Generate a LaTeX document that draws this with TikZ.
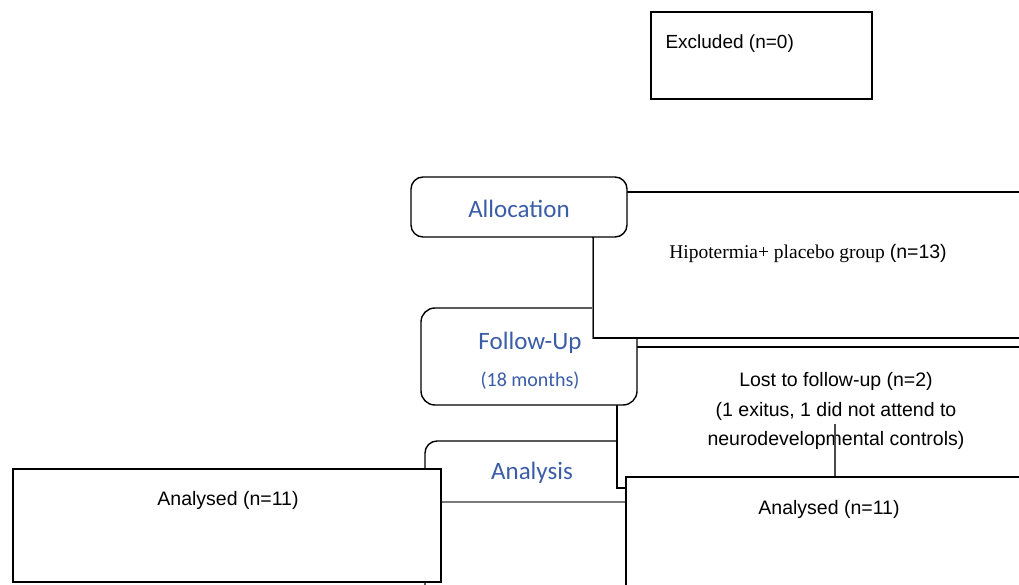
\documentclass[tikz,border=0pt]{standalone}
\usepackage{fontspec}
\setmainfont{Liberation Sans}
\newfontfamily\serifpart{Liberation Serif}
\newfontfamily\stagefont{Carlito}
\definecolor{stageblue}{HTML}{3B5DA8}
\definecolor{linkgray}{HTML}{7A7A7A}
\definecolor{tickgray}{HTML}{4A4A4A}
\usetikzlibrary{positioning,calc}

\begin{document}
\begin{tikzpicture}[x=1pt,y=-1pt,
    box/.style={draw=black,line width=1.4pt,fill=white,inner sep=0pt},
    stage/.style={box,rounded corners=12pt},
    stagetext/.style={stageblue,font=\stagefont\fontsize{25}{30}\selectfont},
    boxtext/.style={font=\fontsize{19.5}{29.5}\selectfont,align=center},
    link/.style={linkgray,line width=1.4pt}]
    \useasboundingbox (0,0) rectangle (1019,585);
    \fill[white] (0,0) rectangle (1019,585);
    \clip (0,0) rectangle (1019,585);
    % boxes, back to front
    \node[stage,minimum width=215,minimum height=160] (analysis) at (532.5,521) {};
    \node[box,minimum width=438,minimum height=141] (lost) at (836,417.5) {};
    \node[stage,rounded corners=14pt,minimum width=216,minimum height=97] (follow) at (529,356.5) {};
    \node[box,minimum width=437,minimum height=146] (hipo) at (811.5,265) {};
    \node[stage,minimum width=216,minimum height=60] (alloc) at (519,207) {};
    \node[box,minimum width=428,minimum height=113] (anL) at (227,525.5) {};
    \node[box,minimum width=406,minimum height=163] (anR) at (829,558.5) {};
    \node[box,minimum width=221,minimum height=87] (excl) at (761.5,55.5) {};
    % texts
    \node[boxtext,font=\fontsize{19}{24}\selectfont,anchor=west] (excltxt) at (662,44) {Excluded (n=0)};
    \node[stagetext] (alloctxt) at (519,209) {Allocation};
    \node[boxtext] (hipotxt) at (808,254) {{\serifpart Hipotermia+ placebo group }(n=13)};
    \node[stagetext] (followtxt) at (530,343) {Follow-Up};
    \node[stagetext,font=\stagefont\fontsize{20}{24}\selectfont] (monthstxt) at (530,381) {(18 months)};
    \node[boxtext] (losttxt) at (836,411) {Lost to follow-up (n=2)\\(1 exitus, 1 did not attend to\\neurodevelopmental controls)};
    \node[stagetext] (analysistxt) at (532,473) {Analysis};
    \node[boxtext] (anLtxt) at (228,500) {Analysed (n=11)};
    \node[boxtext] (anRtxt) at (829,509) {Analysed (n=11)};
    % connectors
    \coordinate (mid) at (0,502);
    \coordinate (tick) at (835,424);
    \draw[link] (alloc.south -| hipo.west) -- (hipo.south west);
    \draw[link] (anL.east |- mid) -- (anR.west |- mid);
    \draw[tickgray,line width=1.2pt] (tick) -- (tick |- anR.north);
\end{tikzpicture}
\end{document}
